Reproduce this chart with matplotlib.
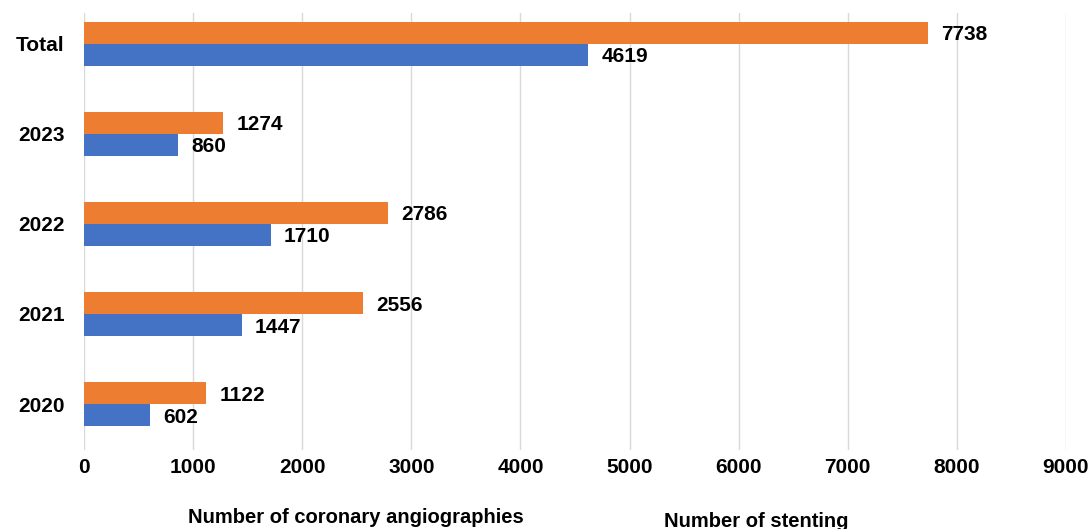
import matplotlib.pyplot as plt
import numpy as np

plt.rcParams['font.family'] = ['Liberation Sans Narrow', 'Liberation Sans', 'DejaVu Sans']

categories = ['2020', '2021', '2022', '2023', 'Total']
angiographies = [1122, 2556, 2786, 1274, 7738]
stenting = [602, 1447, 1710, 860, 4619]

orange = '#ED7D31'
blue = '#4472C4'

fig = plt.figure(figsize=(10.91, 5.29), dpi=100)
ax = fig.add_axes([0.077, 0.1493, 0.9, 0.8261])

y = np.arange(len(categories))
h = 0.245
b1 = ax.barh(y + h / 2, angiographies, height=h, color=orange)
b2 = ax.barh(y - h / 2, stenting, height=h, color=blue)

# value labels to the right of each bar
for bars, vals in ((b1, angiographies), (b2, stenting)):
    for bar, v in zip(bars, vals):
        ax.annotate(str(v), (bar.get_width(), bar.get_y() + bar.get_height() / 2),
                    xytext=(9.5, -1.5), textcoords='offset points', va='center', ha='left',
                    fontsize=15, fontweight='bold', color='black')

ax.set_xlim(0, 9000)
ax.set_ylim(-0.51, 4.34)
ax.set_xticks(range(0, 9001, 1000))
ax.set_yticks(y)
ax.set_yticklabels(categories)
ax.tick_params(length=0, labelsize=15)
ax.tick_params(axis='x', pad=6)
ax.tick_params(axis='y', pad=14)
for lbl in ax.get_xticklabels() + ax.get_yticklabels():
    lbl.set_fontweight('bold')
ax.grid(axis='x', color='#D9D9D9', linewidth=1)
ax.set_axisbelow(True)
for s in ax.spines.values():
    s.set_visible(False)

fig.text(0.172, 0.022, 'Number of coronary angiographies', fontsize=14.5, fontweight='bold', va='center')
fig.text(0.609, 0.015, 'Number of stenting', fontsize=14.5, fontweight='bold', va='center')

fig.savefig('out.png', dpi=100)
